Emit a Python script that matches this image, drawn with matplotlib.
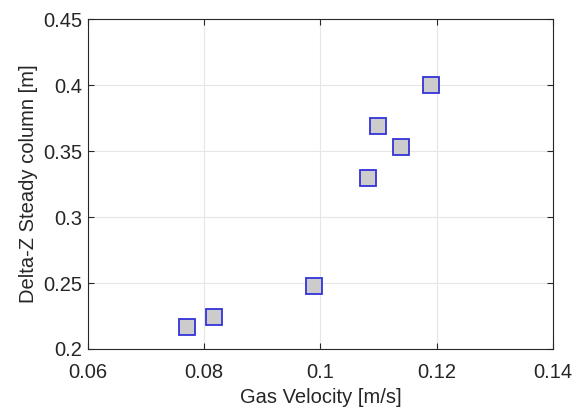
import numpy as np
import matplotlib.pyplot as plt

# gas velocity [m/s] vs delta-z of steady column [m]
gas_velocity = [0.0770, 0.0816, 0.0989, 0.1081, 0.1099, 0.1139, 0.1191]
delta_z = [0.2167, 0.2242, 0.2477, 0.3295, 0.3689, 0.3528, 0.3998]

x_ticks = [0.06, 0.08, 0.1, 0.12, 0.14]
x_labels = ["0.06", "0.08", "0.1", "0.12", "0.14"]
y_ticks = [0.2, 0.25, 0.3, 0.35, 0.4, 0.45]
y_labels = ["0.2", "0.25", "0.3", "0.35", "0.4", "0.45"]

plt.rcParams["font.family"] = ["Liberation Sans", "DejaVu Sans"]
AX_COL = (0.15, 0.15, 0.15)
FS = 14.5

fig = plt.figure(figsize=(5.75, 4.09), dpi=100)
ax = fig.add_axes([0.153, 0.1467, 0.8087, 0.8068])

ax.plot(gas_velocity, delta_z, linestyle="none", marker="s", markersize=11.5,
        markerfacecolor=(0.8, 0.8, 0.8), markeredgecolor=(0.2, 0.2, 0.85),
        markeredgewidth=1.3, zorder=3)

ax.set_xlim(0.06, 0.14)
ax.set_ylim(0.2, 0.45)
ax.set_xticks(x_ticks)
ax.set_xticklabels(x_labels)
ax.set_yticks(y_ticks)
ax.set_yticklabels(y_labels)

ax.grid(True, color=(0.9, 0.9, 0.9), linewidth=0.8)
ax.set_axisbelow(True)
ax.tick_params(direction="in", length=4, width=0.8, top=True, right=True,
               colors=AX_COL, labelsize=FS, labelcolor=AX_COL)
ax.tick_params(axis="x", pad=10)
ax.tick_params(axis="y", pad=4)
for sp in ax.spines.values():
    sp.set_color(AX_COL)
    sp.set_linewidth(0.8)

ax.set_xlabel("Gas Velocity [m/s]", fontsize=FS, color=AX_COL, labelpad=4.5)
ax.set_ylabel("Delta-Z Steady column [m]", fontsize=FS, color=AX_COL, labelpad=4)

fig.savefig("out.png", dpi=100)
